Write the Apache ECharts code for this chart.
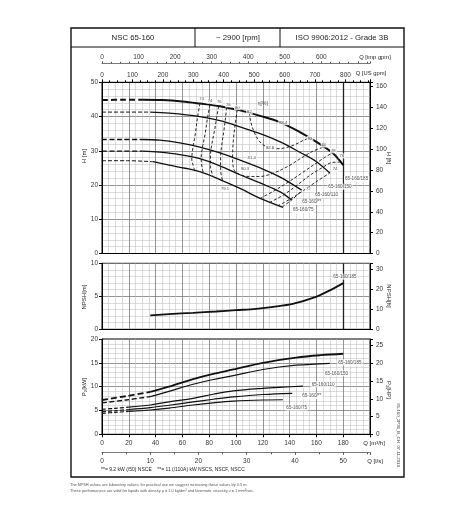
<!DOCTYPE html>
<html><head><meta charset="utf-8">
<script src="https://cdn.jsdelivr.net/npm/echarts@6/dist/echarts.min.js"></script>
<style>html,body{margin:0;padding:0;background:#fff}#c{width:457px;height:508px}</style>
</head><body><div id="c"></div>
<script>
// ---------- data (Q in m3/h) ----------
const headerTexts = ['NSC 65-160', '~ 2900 [rpm]', 'ISO 9906:2012 - Grade 3B'];
const impeller = ['65-160/185', '65-160/150', '65-160/110', '65-160/**', '65-160/75'];

// Head H [m]
const h185Dash = [[0,44.8],[15,44.9],[30,44.9]];
const h185 = [[30,44.9],[45,44.8],[60,44.4],[73,43.8],[88,43],[103,41.8],[118,40.2],[133,38.3],[148,35.4],[160,32.6],[172,29.4],[180,25.8]];
const h150Dash = [[0,41.3],[18,41.3],[36,41.3]];
const h150 = [[36,41.3],[50,41],[73,40],[88,38.8],[103,37],[118,35],[133,32.6],[148,29.5],[160,26.8],[170,23.5]];
const h110Dash = [[0,33.3],[15,33.3],[30,33.3]];
const h110 = [[30,33.3],[43,33.1],[58,32.3],[73,31.1],[88,29.4],[103,27.3],[118,25],[133,22.3],[149,18.5]];
const hStarDash = [[0,29.9],[15,29.9],[30,29.9]];
const hStar = [[30,29.9],[43,29.6],[58,28.9],[73,27.7],[88,25.6],[103,23],[118,20.6],[133,18],[141.5,15.6]];
const h75Dash = [[0,27.1],[19,27.1],[38,26.8]];
const h75 = [[38,26.8],[50,25.8],[62,24.9],[73,23.9],[88,21.6],[103,19],[118,16.1],[135,13.5]];

// iso-efficiency contours eta [%]
const eta73 = [[73,43.8],[71,39],[69.5,34.6],[67.5,30],[67,27.5],[68,25.8],[69,24.4]];
const eta74 = [[80.5,43.4],[78.5,39],[77,35],[75,31],[74,28],[74.5,25.5],[75.6,23.5]];
const eta76 = [[87,43],[85.5,39.5],[84,36],[82,32],[81,29],[81,25.5],[83,22.4]];
const eta78 = [[93,42.6],[92,39],[91,36],[89.5,32],[88.5,28],[88.5,24.5],[90,21.2]];
const eta80 = [[101,42],[99.5,38],[98,33],[97.5,28],[98.5,24.5],[103,23],[110,22.5],[118,22.5],[128,23.5],[138,25.3],[148,27.7],[157,29.8],[165.5,31.1]];
const eta82 = [[110,41.1],[111,38.5],[113.5,35.5],[117,33],[122,31.3],[128,30.6],[136,30.8],[144,31.8],[150,33],[155,33.8]];
const eta78r = [[118,16.1],[128,18.2],[138,20.6],[148,23.2],[158,25.9],[166,28],[172,29.4]];
const eta76r = [[125,14.9],[135,17],[145,19.8],[155,22.8],[164,25],[172,26.6],[178,26.7]];
const eta74r = [[131,13.9],[140,15.8],[150,18.3],[160,21],[170,23.5]];
const eta72r = [[134.5,13.6],[142,15.8],[149,18.3]];
const etaLabels = [
  ['73',74.4,45.1],['74',80.6,44.5],['76',87.5,44.2],['78',94.3,43.4],['80',101,42.6],['82',110,41.4],
  ['83.4',135.3,38.2],['82',155.2,33.6],['80',165.7,31.7],['78',172.6,30],['76',178.9,28.5],
  ['74',173.9,24.6],['72',154,18.8],['82.8',125.4,30.9],['81.4',111.7,27.8],['80.3',106.7,24.7],['79.1',91.8,18.8]
];
const etaTitle = ['η[%]', 120, 43.9];
const hCurveLabels = [[190,21.8],[177.6,19.5],[167.7,17.1],[156.5,15],[150.2,12.7]];

// NPSH [m]
const npsh185 = [[36,2.1],[50,2.3],[68,2.5],[85,2.7],[100,2.9],[115,3.1],[128,3.4],[143,3.9],[158,4.8],[170,5.9],[180,7.0]];
const npshLabel = [181.3,7.97];

// Power P2 [kW]
const p185Dash = [[0,7.2],[18,8.0],[36,8.9]];
const p185 = [[36,8.9],[50,10],[68,11.6],[83,12.7],[98,13.6],[120,15],[145,16.1],[163,16.6],[180,16.9]];
const p150Dash = [[0,6.6],[18,7.2],[36,7.9]];
const p150 = [[36,7.9],[50,9],[68,10.5],[83,11.5],[98,12.3],[120,13.6],[145,14.5],[170,14.9]];
const p110Dash = [[0,5.25],[10,5.45],[20,5.7]];
const p110 = [[20,5.7],[36,6.15],[50,6.8],[68,7.55],[83,8.4],[98,9.1],[120,9.65],[135,9.9],[150,10.1]];
const pStarDash = [[0,4.75],[10,4.95],[20,5.2]];
const pStar = [[20,5.2],[36,5.6],[50,6.1],[68,6.8],[83,7.35],[98,7.85],[120,8.35],[142,8.6]];
const p75Dash = [[0,4.4],[10,4.6],[20,4.8]];
const p75 = [[20,4.8],[36,5.1],[50,5.5],[68,6.15],[83,6.6],[98,6.95],[120,7.2],[135,7.25]];
const pCurveLabels = [[185,15.1],[175,12.8],[165,10.5],[156.5,8.0],[145.3,5.6]];

// axis ranges / unit conversions
const QMAX = 200;
const USGPM = 0.227125, IMPGPM = 0.272765, LPS = 3.6, FT = 3.28084, HP = 1.34102;
const footInside = '**= 9.2 kW (/50) NSCE    **= 11 (/110A) kW NSCS, NSCF, NSCC';
const footNotes = ['The NPSH values are laboratory values; for practical use we suggest increasing these values by 0.5 m.',
  'These performances are valid for liquids with density ρ = 1.0 kg/dm³ and kinematic viscosity ν = 1 mm²/sec.'];

// ---------- chart ----------
const FONT = 'Liberation Sans';
const chart = echarts.init(document.getElementById('c'), null, {renderer:'canvas'});
const G = [
  {left:102, top:82.3, width:268, height:171.2},
  {left:102, top:263.3, width:268, height:66},
  {left:102, top:339, width:268, height:95.3}
];
const majorSplit = {show:true, lineStyle:{color:'#7a7a7a', width:0.8}};
const minorSplit = {show:true, lineStyle:{color:'#b8b8b8', width:0.5}};
const lbl = {fontSize:6.5, color:'#333', fontFamily:FONT};

function qAxis(gi, showLabels){
  return {type:'value', gridIndex:gi, position:'bottom', min:0, max:QMAX, interval:20,
    axisLine:{show:true, lineStyle:{color:'#000', width:1}},
    axisTick:{show:showLabels, length:3, lineStyle:{color:'#000'}},
    axisLabel: showLabels ? Object.assign({show:true, margin:5, showMaxLabel:false}, lbl) : {show:false},
    splitLine:majorSplit, minorTick:{show:true, splitNumber:4, length:0.01, lineStyle:{color:'#000'}}, minorSplitLine:minorSplit};
}
function sideAxis(gi, pos, max, interval, split, offset, fmtMax){
  return {type:'value', gridIndex:gi, position:pos, min:0, max:max, interval:interval, offset:offset||0,
    axisLine:{show:true, onZero:false, lineStyle:{color:'#000', width:1}},
    axisTick:{show:true, length:3, lineStyle:{color:'#000'}},
    axisLabel:Object.assign({show:true, margin:4, showMaxLabel:true,
      formatter: v => (fmtMax!==undefined && v>fmtMax+1e-6) ? '' : String(Math.round(v*100)/100)}, lbl),
    splitLine: split ? majorSplit : {show:false},
    minorTick:{show:split, splitNumber:5, length:0.01, lineStyle:{color:'#000'}}, minorSplitLine: split ? minorSplit : {show:false}};
}

const xAxis = [
  qAxis(0,false),
  // US gpm (top of grid 0)
  {type:'value', gridIndex:0, position:'top', min:0, max:QMAX/USGPM, interval:100,
    axisLine:{show:true, onZero:false, lineStyle:{color:'#000'}}, axisTick:{show:true, length:3, lineStyle:{color:'#000'}},
    minorTick:{show:true, splitNumber:4, length:2, lineStyle:{color:'#000'}},
    axisLabel:Object.assign({margin:4, formatter: v => v>800.5 ? '' : String(v)}, lbl), splitLine:{show:false}},
  // imp gpm
  {type:'value', gridIndex:0, position:'top', offset:19, min:0, max:QMAX/IMPGPM, interval:100,
    axisLine:{show:true, onZero:false, lineStyle:{color:'#555', width:0.8}}, axisTick:{show:true, length:2, lineStyle:{color:'#555'}},
    minorTick:{show:true, splitNumber:4, length:1.5, lineStyle:{color:'#555'}},
    axisLabel:Object.assign({margin:3, formatter: v => v>600.5 ? '' : String(v)}, lbl), splitLine:{show:false}},
  qAxis(1,false),
  qAxis(2,true),
  // l/s
  {type:'value', gridIndex:2, position:'bottom', offset:18, min:0, max:QMAX/LPS, interval:10,
    axisLine:{show:true, onZero:false, lineStyle:{color:'#555', width:0.8}}, axisTick:{show:true, length:2.5, lineStyle:{color:'#555'}},
    minorTick:{show:true, splitNumber:2, length:2, lineStyle:{color:'#555'}},
    axisLabel:Object.assign({margin:5, formatter: v => v>50.5 ? '' : String(v)}, lbl), splitLine:{show:false}}
];
const yAxis = [
  sideAxis(0,'left',50,10,true),
  sideAxis(0,'right',50*FT,20,false,0,160),
  sideAxis(1,'left',10,5,true),
  sideAxis(1,'right',10*FT,10,false,0,30),
  sideAxis(2,'left',20,5,true),
  sideAxis(2,'right',20*HP,5,false,0,25)
];
yAxis[1].axisLabel.margin = 6; yAxis[3].axisLabel.margin = 6; yAxis[5].axisLabel.margin = 6;

const series = [];
function line(data, xi, yi, width, dash, extra){
  const s = {type:'line', xAxisIndex:xi, yAxisIndex:yi, data:data, showSymbol:false, symbol:'none',
    smooth:0.35, silent:true, animation:false, z:5,
    lineStyle:{color:'#111', width:width, type:dash||'solid'}};
  return Object.assign(s, extra||{});
}
function labels(items, xi, yi, size, bg){
  return {type:'scatter', xAxisIndex:xi, yAxisIndex:yi, symbolSize:1, silent:true, animation:false, z:10,
    itemStyle:{color:'rgba(0,0,0,0)'},
    data:items.map(it => ({name:it[0], value:[it[1], it[2]]})),
    label:{show:true, position:'inside', formatter:'{b}', fontSize:size, color:'#222', fontFamily:FONT,
      backgroundColor: bg ? '#fff' : 'transparent', padding:[0.5,1]}};
}
const vline180 = {silent:true, symbol:'none', animation:false, label:{show:false},
  lineStyle:{color:'#222', width:1.3, type:'solid'}, data:[{xAxis:180}]};

// H chart
series.push(line(h185Dash,0,0,2,[6,3]));
series.push(line(h185,0,0,2,'solid',{markLine:vline180}));
series.push(line(h150Dash,0,0,1,[4,2]));
series.push(line(h150,0,0,1.3));
series.push(line(h110Dash,0,0,1.4,[5,2.5]));
series.push(line(h110,0,0,1.3));
series.push(line(hStarDash,0,0,1.4,[5,2.5]));
series.push(line(hStar,0,0,1.3));
series.push(line(h75Dash,0,0,1,[4,2]));
series.push(line(h75,0,0,1.3));
[eta73,eta74,eta76,eta78,eta80,eta82,eta78r,eta76r,eta74r,eta72r].forEach(d => {
  series.push(line(d,0,0,0.9,[3,2],{z:4}));
});
series.push(labels(etaLabels,0,0,4.2,true));
series.push(labels([etaTitle],0,0,5,false));
series.push(labels(impeller.map((n,i)=>[n,hCurveLabels[i][0],hCurveLabels[i][1]]),0,0,4.6,true));

// NPSH chart
series.push(line(npsh185,3,2,1.8,'solid',{markLine:vline180}));
series.push(labels([[impeller[0], npshLabel[0], npshLabel[1]]],3,2,4.6,true));

// Power chart
series.push(line(p185Dash,4,4,1.8,[6,3]));
series.push(line(p185,4,4,1.8));
series.push(line(p150Dash,4,4,1.3,[5,2.5]));
series.push(line(p150,4,4,1.2));
series.push(line(p110Dash,4,4,1.2,[4,2]));
series.push(line(p110,4,4,1.2));
series.push(line(pStarDash,4,4,1.2,[4,2]));
series.push(line(pStar,4,4,1.2));
series.push(line(p75Dash,4,4,1.2,[4,2]));
series.push(line(p75,4,4,1.2));
series.push(labels(impeller.map((n,i)=>[n,pCurveLabels[i][0],pCurveLabels[i][1]]),4,4,4.6,true));

// static layout graphics
const T = (text, x, y, opt) => Object.assign({type:'text', x:x, y:y, silent:true,
  style:Object.assign({text:text, fontSize:6.5, fill:'#222', fontFamily:FONT, align:'center', verticalAlign:'middle'}, (opt&&opt.style)||{})},
  opt && opt.rotation!==undefined ? {rotation:opt.rotation} : {});
const graphic = [
  {type:'rect', shape:{x:71, y:28, width:333, height:449}, style:{fill:'none', stroke:'#111', lineWidth:1.4}, silent:true},
  {type:'line', shape:{x1:71, y1:47, x2:404, y2:47}, style:{stroke:'#111', lineWidth:1.2}, silent:true},
  {type:'line', shape:{x1:195, y1:28, x2:195, y2:47}, style:{stroke:'#111', lineWidth:1}, silent:true},
  {type:'line', shape:{x1:280, y1:28, x2:280, y2:47}, style:{stroke:'#111', lineWidth:1}, silent:true},
  T(headerTexts[0], 133, 38, {style:{fontSize:7.8}}),
  T(headerTexts[1], 238, 38, {style:{fontSize:7.8}}),
  T(headerTexts[2], 342, 38, {style:{fontSize:7.8}}),
  T('Q [imp gpm]', 375, 57, {style:{fontSize:5.8}}),
  T('Q [US gpm]', 371, 73, {style:{fontSize:5.8}}),
  T('Q [m³/h]', 374, 443, {style:{fontSize:6}}),
  T('Q [l/s]', 375, 461, {style:{fontSize:6}}),
  T('H [m]', 84, 156, {rotation:Math.PI/2, style:{fontSize:6}}),
  T('H [ft]', 389, 158, {rotation:-Math.PI/2, style:{fontSize:6}}),
  T('NPSH[m]', 84, 297, {rotation:Math.PI/2, style:{fontSize:6}}),
  T('NPSH[ft]', 389, 296, {rotation:-Math.PI/2, style:{fontSize:6}}),
  T('P₂[kW]', 84, 387, {rotation:Math.PI/2, style:{fontSize:6}}),
  T('P₂[HP]', 389, 390, {rotation:-Math.PI/2, style:{fontSize:6}}),
  T('65-160_2P36_B_CH  07-11-2019', 398, 435, {rotation:-Math.PI/2, style:{fontSize:4.3, fill:'#444'}}),
  T(footInside, 101, 470, {style:{fontSize:5, align:'left'}}),
  T(footNotes[0], 70, 485, {style:{fontSize:3.9, align:'left', fill:'#555'}}),
  T(footNotes[1], 70, 491, {style:{fontSize:3.9, align:'left', fill:'#555'}})
];

chart.setOption({
  backgroundColor:'#fff',
  animation:false,
  grid:G.map(g => Object.assign({show:true, borderColor:'#000', borderWidth:1, containLabel:false, outerBoundsMode:'none'}, g)),
  xAxis:xAxis, yAxis:yAxis, series:series, graphic:graphic
});
</script></body></html>
